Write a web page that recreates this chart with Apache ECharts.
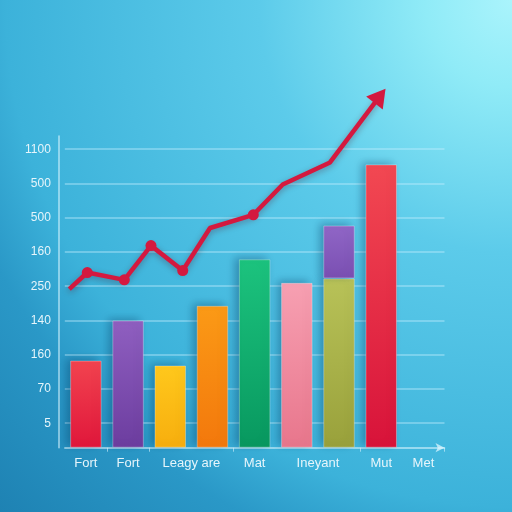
<!DOCTYPE html>
<html>
<head>
<meta charset="utf-8">
<script src="https://cdn.jsdelivr.net/npm/echarts@6/dist/echarts.min.js"></script>
<style>html,body{margin:0;padding:0;}#c{width:512px;height:512px;}</style>
</head>
<body>
<div id="c"></div>
<script>
// ---- data ----
var barSlots = ['1','2','3','4','5','6','7','8','9'];
var barValues = [17.8, 26.0, 16.8, 29.0, 38.5, 33.7, 34.6, 57.9, null];
var stackTopValues = [null, null, null, null, null, null, 10.8, null, null];
var barTopColors = ['#f2434f', '#8f5fc0', '#ffc81c', '#fb9a16', '#1cc37e', '#f7a0b2', '#b8c258', '#f24852'];
var barBottomColors = ['#e0173b', '#6c3d9f', '#f7ae0e', '#f3780c', '#08985f', '#e8768c', '#99a13b', '#d8133a'];
var lineX = [0.107, 0.533, 1.410, 2.043, 2.795, 3.442, 4.468, 5.165, 6.286, 7.471];
var lineY = [32.4, 35.8, 34.3, 41.3, 36.2, 44.9, 47.6, 53.8, 58.3, 71.9];
var lineMarkers = [false, true, true, true, true, false, true, false, false, 'arrow'];
var xLabelPos = [0.5, 1.5, 3, 4.5, 6, 7.5, 8.5];
var xLabels = ['Fort', 'Fort', 'Leagy are', 'Mat', 'Ineyant', 'Mut', 'Met'];
var yTickValues = [5, 12, 19, 26, 33, 40, 47, 54, 61];
var yTickLabels = ['5', '70', '160', '140', '250', '160', '500', '500', '1100'];

function grad(top, bottom) {
  return {type: 'linear', x: 0, y: 0, x2: 0, y2: 1,
    colorStops: [{offset: 0, color: top}, {offset: 1, color: bottom}]};
}

var barData = barValues.map(function (v, i) {
  if (v === null) return '-';
  return {value: v, itemStyle: {color: grad(barTopColors[i], barBottomColors[i])}};
});
var topData = stackTopValues.map(function (v) { return v === null ? '-' : v; });

var lineData = lineX.map(function (x, i) {
  var m = lineMarkers[i];
  var item = {value: [x, lineY[i]]};
  if (m === 'arrow') {
    item.symbol = 'triangle';
    item.symbolSize = [21, 18];
    item.symbolRotate = -38;
  } else if (m) {
    item.symbol = 'circle';
    item.symbolSize = 11;
  } else {
    item.symbol = 'none';
  }
  return item;
});

var splitColors = [];
for (var k = 0; k < 7; k++) splitColors.push(k === 5 ? 'rgba(200,240,255,0.5)' : 'rgba(0,0,0,0)');

var option = {
  animation: false,
  backgroundColor: {type: 'radial', x: 1, y: 0, r: 1.414,
    colorStops: [
      {offset: 0, color: '#aaf4fc'},
      {offset: 0.12, color: '#90ebf7'},
      {offset: 0.35, color: '#5ccbea'},
      {offset: 0.7, color: '#3cb2da'},
      {offset: 0.8, color: '#2a98c7'},
      {offset: 1, color: '#1e82b3'}
    ]},
  grid: {left: 64.8, right: 67.5, top: 136, bottom: 64.3},
  xAxis: [
    {
      type: 'category', position: 'bottom', data: barSlots,
      axisLine: {show: false},
      axisLabel: {show: false},
      axisTick: {show: true, length: 4, inside: false,
        interval: function (i) { return i === 1 || i === 2 || i === 4 || i === 7; },
        lineStyle: {color: 'rgba(220,245,255,0.6)', width: 1}},
      splitLine: {show: false}
    },
    {
      type: 'value', position: 'bottom', min: 0, max: 9, interval: 0.5,
      axisLine: {show: true, onZero: false, symbol: ['none', 'arrow'], symbolSize: [7, 9],
        lineStyle: {color: 'rgba(220,245,255,0.75)', width: 1.5}},
      axisTick: {show: false},
      splitLine: {show: false},
      axisLabel: {
        margin: 9, color: '#e6f5fb', fontSize: 13, fontFamily: 'Liberation Sans, Arial, sans-serif',
        showMinLabel: true, showMaxLabel: true,
        formatter: function (v) {
          for (var i = 0; i < xLabelPos.length; i++) if (Math.abs(xLabelPos[i] - v) < 1e-6) return xLabels[i];
          return '';
        }
      }
    }
  ],
  yAxis: {
    type: 'value', min: 0, max: 63.7, interval: 1, offset: 6,
    axisLine: {show: true, onZero: false, lineStyle: {color: 'rgba(220,245,255,0.7)', width: 1.5}},
    axisTick: {show: false},
    splitLine: {show: true, lineStyle: {color: splitColors, width: 1.5}},
    axisLabel: {
      margin: 8, color: '#e6f5fb', fontSize: 12, fontFamily: 'Liberation Sans, Arial, sans-serif',
      formatter: function (v) {
        var i = yTickValues.indexOf(Math.round(v * 1000) / 1000);
        return i >= 0 ? yTickLabels[i] : '';
      }
    }
  },
  series: [
    {
      type: 'bar', xAxisIndex: 0, stack: 's', data: barData, barWidth: 31.5,
      itemStyle: {borderColor: 'rgba(255,255,255,0.3)', borderWidth: 1,
        shadowBlur: 8, shadowOffsetX: -4, shadowOffsetY: -2, shadowColor: 'rgba(0,50,90,0.35)'}
    },
    {
      type: 'bar', xAxisIndex: 0, stack: 's', data: topData, barWidth: 31.5,
      itemStyle: {color: grad('#9066c6', '#7a4fb2'), borderColor: 'rgba(255,255,255,0.3)', borderWidth: 1,
        shadowBlur: 8, shadowOffsetX: -4, shadowOffsetY: -2, shadowColor: 'rgba(0,50,90,0.35)'}
    },
    {
      type: 'line', xAxisIndex: 1, yAxisIndex: 0, data: lineData, clip: false, z: 5,
      lineStyle: {color: '#d4193f', width: 4.5, shadowBlur: 6, shadowColor: 'rgba(80,0,20,0.35)', shadowOffsetY: 2},
      itemStyle: {color: '#d4193f'}
    }
  ]
};
var chart = echarts.init(document.getElementById('c'), null, {renderer: 'canvas'});
chart.setOption(option);
</script>
</body>
</html>
